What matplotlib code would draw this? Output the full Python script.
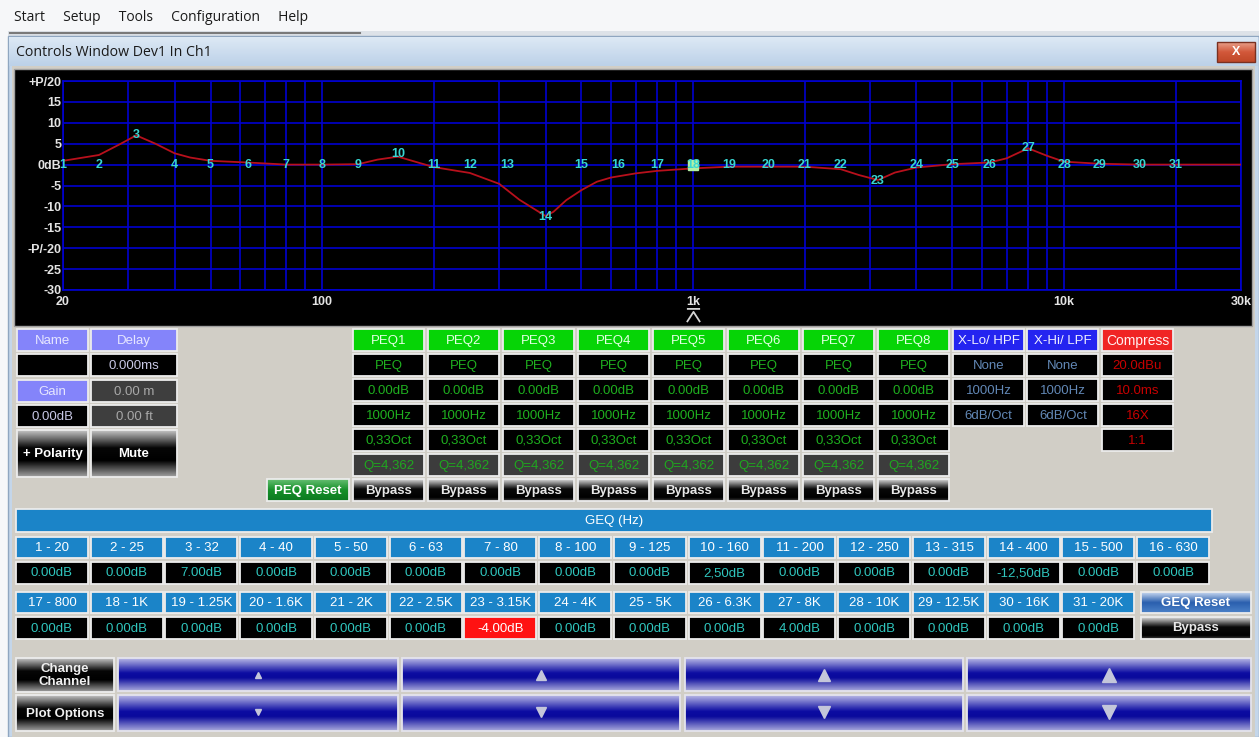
import numpy as np
import matplotlib.pyplot as plt
from matplotlib.patches import Rectangle
from matplotlib.colors import LinearSegmentedColormap
from matplotlib.path import Path
from matplotlib.transforms import blended_transform_factory

plt.rcParams['font.family'] = ['Liberation Sans', 'DejaVu Sans']

# ---- data ----
menu_items = ['Start', 'Setup', 'Tools', 'Configuration', 'Help']
window_title = 'Controls Window Dev1 In Ch1'

eq_y_ticks = [20, 15, 10, 5, 0, -5, -10, -15, -20, -25, -30]
eq_y_labels = ['+P/20', '15', '10', '5', '0dB', '-5', '-10', '-15', '-P/-20', '-25', '-30']
eq_x_ticks = [20, 100, 1000, 10000, 30000]
eq_x_labels = ['20', '100', '1k', '10k', '30k']

geq_freqs = [20, 25, 31.5, 40, 50, 63, 80, 100, 125, 160, 200, 250, 315, 400, 500, 630,
             800, 1000, 1250, 1600, 2000, 2500, 3150, 4000, 5000, 6300, 8000, 10000,
             12500, 16000, 20000]
geq_gain = [0, 0, 7, 0, 0, 0, 0, 0, 0, 2.5, 0, 0, 0, -12.5, 0, 0,
            0, 0, 0, 0, 0, 0, -4, 0, 0, 0, 4, 0, 0, 0, 0]
geq_names = ['1 - 20', '2 - 25', '3 - 32', '4 - 40', '5 - 50', '6 - 63', '7 - 80', '8 - 100',
             '9 - 125', '10 - 160', '11 - 200', '12 - 250', '13 - 315', '14 - 400', '15 - 500',
             '16 - 630', '17 - 800', '18 - 1K', '19 - 1.25K', '20 - 1.6K', '21 - 2K',
             '22 - 2.5K', '23 - 3.15K', '24 - 4K', '25 - 5K', '26 - 6.3K', '27 - 8K',
             '28 - 10K', '29 - 12.5K', '30 - 16K', '31 - 20K']
geq_readout = ['0.00dB', '0.00dB', '7.00dB', '0.00dB', '0.00dB', '0.00dB', '0.00dB', '0.00dB',
               '0.00dB', '2,50dB', '0.00dB', '0.00dB', '0.00dB', '-12,50dB', '0.00dB', '0.00dB',
               '0.00dB', '0.00dB', '0.00dB', '0.00dB', '0.00dB', '0.00dB', '-4.00dB', '0.00dB',
               '0.00dB', '0.00dB', '4.00dB', '0.00dB', '0.00dB', '0.00dB', '0.00dB']
geq_selected = 22

# response curve sampled from the plot
curve_freq = [20, 25, 28.5, 31.5, 35.5, 40, 44, 50, 63, 80, 100, 125, 141, 160, 178, 200,
              250, 300, 340, 400, 420, 455, 500, 550, 600, 700, 800, 1000, 1250, 2000,
              2500, 2800, 3150, 3500, 4000, 5000, 6300, 7000, 8000, 9000, 10000, 12500,
              16000, 20000, 30000]
curve_db = [0.9, 2.3, 4.9, 7.0, 5.0, 2.7, 1.7, 0.9, 0.5, 0.0, 0.0, 0.1, 1.2, 1.9, 0.7, -0.6,
            -2.0, -4.6, -8.4, -12.3, -11.3, -8.5, -6.1, -4.1, -3.1, -2.1, -1.5, -0.9, -0.5, -0.5,
            -1.1, -2.5, -3.7, -1.9, -0.7, 0.1, 0.5, 1.5, 3.9, 2.1, 0.7, 0.2,
            0.0, 0.0, 0.0]

peq_names = ['PEQ1', 'PEQ2', 'PEQ3', 'PEQ4', 'PEQ5', 'PEQ6', 'PEQ7', 'PEQ8']
peq_rows = ['PEQ', '0.00dB', '1000Hz', '0,33Oct']
peq_q = 'Q=4,362'
peq_freq = 1000
peq_gain = 0
xover_names = ['X-Lo/ HPF', 'X-Hi/ LPF']
xover_rows = ['None', '1000Hz', '6dB/Oct']
comp_rows = ['20.0dBu', '10.0ms', '16X', '1:1']

W, H = 1259, 737
fig = plt.figure(figsize=(W / 100, H / 100), dpi=100)
fig.patch.set_facecolor('#f6f7f9')
ui = fig.add_axes([0, 0, 1, 1])
ui.set_xlim(0, W)
ui.set_ylim(H, 0)
ui.axis('off')


def gradient(x, y, w, h, stops, z=2):
    cmap = LinearSegmentedColormap.from_list('g', stops)
    img = cmap(np.linspace(0, 1, 64))[:, None, :]
    ui.imshow(img, extent=(x, x + w, y + h, y), aspect='auto',
              interpolation='bilinear', zorder=z)


def cell(x, y, w, h, txt, fc='black', tc='white', bold=False, fs=9.5, stops=None,
         edge='#ececec'):
    if stops:
        gradient(x, y, w, h, stops)
    else:
        ui.add_patch(Rectangle((x, y), w, h, facecolor=fc, edgecolor='none', zorder=2))
    ui.add_patch(Rectangle((x, y), w, h, fill=False, edgecolor=edge, lw=1.3, zorder=3))
    if txt:
        ui.text(x + w / 2, y + h / 2 + 0.5, txt, color=tc, fontsize=fs, ha='center',
                va='center', weight='bold' if bold else 'normal', zorder=4)


BTN = [(0, '#c4c4c4'), (0.38, '#060606'), (0.65, '#000000'), (1, '#a0a0a0')]
BYP = [(0, '#dcdcdc'), (0.45, '#090909'), (0.85, '#000000'), (1, '#404040')]
BLUE = [(0, '#b8b8e6'), (0.45, '#0c0ca2'), (0.6, '#0a0a9c'), (1, '#aaaadc')]
GREEN = [(0, '#66bf72'), (0.5, '#16902a'), (1, '#0c7a20')]
GEQR = [(0, '#c8d8f0'), (0.5, '#2a5fae'), (1, '#4c82c8')]

# ---- window chrome ----
ui.text(14, 17, '     '.join(menu_items), fontsize=10, family='Open Sans',
        va='center', color='#1a1a1a')
ui.add_patch(Rectangle((8, 31), W - 8, 6, facecolor='#dde2e8', edgecolor='none'))
ui.plot([10, 360], [33, 33], color='#7a7a7a', lw=1.5)
ui.add_patch(Rectangle((8, 36), W - 8, H - 36, facecolor='#c4d6ea', edgecolor='#8fa6c0', lw=1))
gradient(9, 37, W - 10, 29, [(0, '#dde9f5'), (1, '#bcd1e8')], z=1)
ui.text(16, 52, window_title, fontsize=10.2, family='Open Sans', va='center', color='#1a1a1a')
gradient(1217, 42, 38, 20, [(0, '#e9a08a'), (0.5, '#d2583a'), (1, '#c04828')], z=2)
ui.add_patch(Rectangle((1217, 42), 38, 20, fill=False, edgecolor='#7a3020', lw=1, zorder=3))
ui.text(1236, 52, 'X', fontsize=9, weight='bold', color='white', ha='center', va='center',
        zorder=4)
ui.add_patch(Rectangle((12, 66), W - 16, H - 66, facecolor='#d1cec6', edgecolor='none'))
ui.add_patch(Rectangle((14, 69), 1238, 257, facecolor='black', edgecolor='#a0a0a0', lw=1))

# ---- EQ plot ----
ax = fig.add_axes([63 / W, 1 - 290 / H, (1241 - 63) / W, (290 - 81) / H])
ax.set_facecolor('none')
ax.set_xscale('log')
ax.set_xlim(20, 30000)
ax.set_ylim(-30, 20)
grid_freqs = [m * 10 ** e for e in range(1, 5) for m in range(1, 10) if 20 <= m * 10 ** e <= 30000]
ax.set_xticks(grid_freqs, minor=True)
ax.set_xticks(eq_x_ticks, eq_x_labels)
ax.xaxis.set_minor_formatter(plt.NullFormatter())
ax.set_yticks(eq_y_ticks, eq_y_labels)
ax.tick_params(which='both', length=0, colors='#e4e4e4', labelsize=9)
ax.tick_params(axis='y', pad=1)
ax.tick_params(axis='x', pad=4)
for lab in ax.get_xticklabels() + ax.get_yticklabels():
    lab.set_fontweight('bold')
ax.grid(which='both', color='#0000d0', lw=1.2)
for sp in ax.spines.values():
    sp.set_color('#0000d0')
    sp.set_linewidth(1.2)

ax.plot(curve_freq, curve_db, color='#b8101c', lw=1.3, zorder=3)
ax.plot([peq_freq], [peq_gain], marker='s', ms=7, mfc='#b4f0a4', mec='#b4f0a4',
        linestyle='none', zorder=4)
for i, (f, g) in enumerate(zip(geq_freqs, geq_gain)):
    ax.text(f, g, str(i + 1), color='#38d6d2', fontsize=9, weight='bold', ha='center',
            va='center', zorder=5, clip_on=False)

marker_path = Path([(-1, 1), (1, 1), (-1, -1), (0, 0.55), (1, -1)],
                   [Path.MOVETO, Path.LINETO, Path.MOVETO, Path.LINETO, Path.LINETO])
trans = blended_transform_factory(ax.transData, ax.transAxes)
ax.plot([peq_freq], [-0.12], transform=trans, marker=marker_path, ms=9.5, mfc='none',
        mec='#d4d4d4', mew=1.3, linestyle='none', clip_on=False)

# ---- channel controls ----
LAV, LTXT = '#8484fa', '#e6e6ff'
cell(17, 329, 71, 22, 'Name', LAV, LTXT)
cell(91, 329, 86, 22, 'Delay', LAV, LTXT)
cell(17, 354, 71, 22, '', 'black')
cell(91, 354, 86, 22, '0.000ms', 'black', '#c8c8e6')
cell(17, 380, 71, 22, 'Gain', LAV, LTXT)
cell(91, 380, 86, 22, '0.00 m', '#3e3e3e', '#a8a8a8')
cell(17, 405, 71, 22, '0.00dB', 'black', '#c8c8e6')
cell(91, 405, 86, 22, '0.00 ft', '#3e3e3e', '#a8a8a8')
cell(17, 430, 71, 47, '+ Polarity', tc='white', bold=True, stops=BTN)
cell(91, 430, 86, 47, 'Mute', tc='white', bold=True, stops=BTN)

# ---- PEQ bank ----
cell(267, 479, 82, 22, 'PEQ Reset', tc='white', bold=True, stops=GREEN)
for k, name in enumerate(peq_names):
    x = 353 + 75 * k
    cell(x, 329, 71, 22, name, '#06d406', '#e4ffe4')
    for r, txt in enumerate(peq_rows):
        cell(x, 354 + 25 * r, 71, 22, txt, 'black', '#1fb01f')
    cell(x, 454, 71, 22, peq_q, '#3c3c3c', '#1fa81f')
    cell(x, 479, 71, 22, 'Bypass', tc='#e8e8e8', bold=True, stops=BYP)

for k, name in enumerate(xover_names):
    x = 953 + 74.5 * k
    cell(x, 329, 71, 22, name, '#2424f0', '#f0f0ff')
    for r, txt in enumerate(xover_rows):
        cell(x, 354 + 25 * r, 71, 22, txt, 'black', '#6288b6')

cell(1102, 329, 71, 22, 'Compress', '#f02424', '#fff0f0', fs=10)
for r, txt in enumerate(comp_rows):
    cell(1102, 354 + 25 * r, 71, 22, txt, 'black', '#c80000')

# ---- GEQ ----
GEQB = '#1b84c8'
cell(16, 509, 1196, 23, 'GEQ (Hz)', GEQB, 'white')
for i, (name, val) in enumerate(zip(geq_names, geq_readout)):
    row, col = divmod(i, 16)
    x = 16 + 74.75 * col
    y = 537 + 55 * row
    cell(x, y, 72, 21, name, GEQB, 'white')
    if i == geq_selected:
        cell(x, y + 25, 72, 22, val, '#ff1212', 'white')
    else:
        cell(x, y + 25, 72, 22, val, 'black', '#30c6be')
cell(1141, 592, 110, 21, 'GEQ Reset', tc='white', bold=True, stops=GEQR)
cell(1141, 617, 110, 22, 'Bypass', tc='#e8e8e8', bold=True, stops=BYP)

# ---- bottom navigation ----
cell(16, 658, 98, 34, 'Change\nChannel', tc='#f0f0f0', bold=True, stops=BTN)
cell(16, 695, 98, 36, 'Plot Options', tc='#f0f0f0', bold=True, stops=BTN)
bar_x = [118, 402, 685, 967]
bar_w = [280, 278, 278, 284]
arrow_ms = [4, 6.5, 8.5, 10]
for x, w, ms in zip(bar_x, bar_w, arrow_ms):
    cell(x, 658, w, 33, '', stops=BLUE, edge='#e4e4ec')
    cell(x, 695, w, 36, '', stops=BLUE, edge='#e4e4ec')
    ui.plot([x + w / 2], [675], marker='^', ms=ms, color='#c4c6da', zorder=5)
    ui.plot([x + w / 2], [712], marker='v', ms=ms, color='#c4c6da', zorder=5)

ui.set_xlim(0, W)
ui.set_ylim(H, 0)
fig.savefig('out.png', dpi=100, facecolor=fig.get_facecolor())
